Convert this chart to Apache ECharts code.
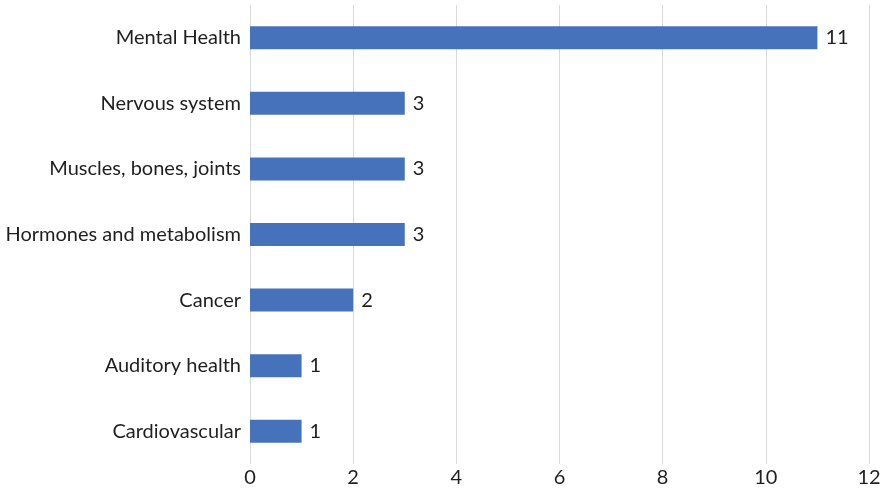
<!DOCTYPE html>
<html>
<head>
<meta charset="utf-8">
<script src="https://cdn.jsdelivr.net/npm/echarts@6/dist/echarts.min.js"></script>
<style>
  html, body { margin: 0; padding: 0; background: #ffffff; }
  #chart { width: 886px; height: 493px; }
</style>
</head>
<body>
<div id="chart"></div>
<script>
// Topic categories, listed bottom to top as drawn on the category axis
const categories = [
  'Cardiovascular',
  'Auditory health',
  'Cancer',
  'Hormones and metabolism',
  'Muscles, bones, joints',
  'Nervous system',
  'Mental Health'
];
// Count per category
const counts = [1, 1, 2, 3, 3, 3, 11];
// Value axis tick labels
const xTicks = [0, 2, 4, 6, 8, 10, 12];

const fontFamily = 'Lato, "Open Sans", sans-serif';
const textColor = '#1f1f1f';
const fontSize = 20;

const chart = echarts.init(document.getElementById('chart'), null, { renderer: 'canvas' });
chart.setOption({
  animation: false,
  grid: { left: 250, right: 17, top: 5, bottom: 29, containLabel: false },
  xAxis: {
    type: 'value',
    min: xTicks[0],
    max: xTicks[xTicks.length - 1],
    interval: 2,
    axisLine: { show: false },
    axisTick: { show: false },
    splitLine: { show: true, lineStyle: { color: '#d9d9d9', width: 1 } },
    axisLabel: { color: textColor, fontSize: fontSize, fontFamily: fontFamily, margin: 4 }
  },
  yAxis: {
    type: 'category',
    data: categories,
    axisLine: { show: false },
    axisTick: { show: false },
    splitLine: { show: false },
    axisLabel: { color: textColor, fontSize: fontSize, fontFamily: fontFamily, margin: 9 }
  },
  series: [{
    type: 'bar',
    data: counts,
    barWidth: 23,
    itemStyle: { color: '#4671bb' },
    label: {
      show: true,
      position: 'right',
      distance: 8,
      color: textColor,
      fontSize: fontSize,
      fontFamily: fontFamily
    }
  }]
});
</script>
</body>
</html>
